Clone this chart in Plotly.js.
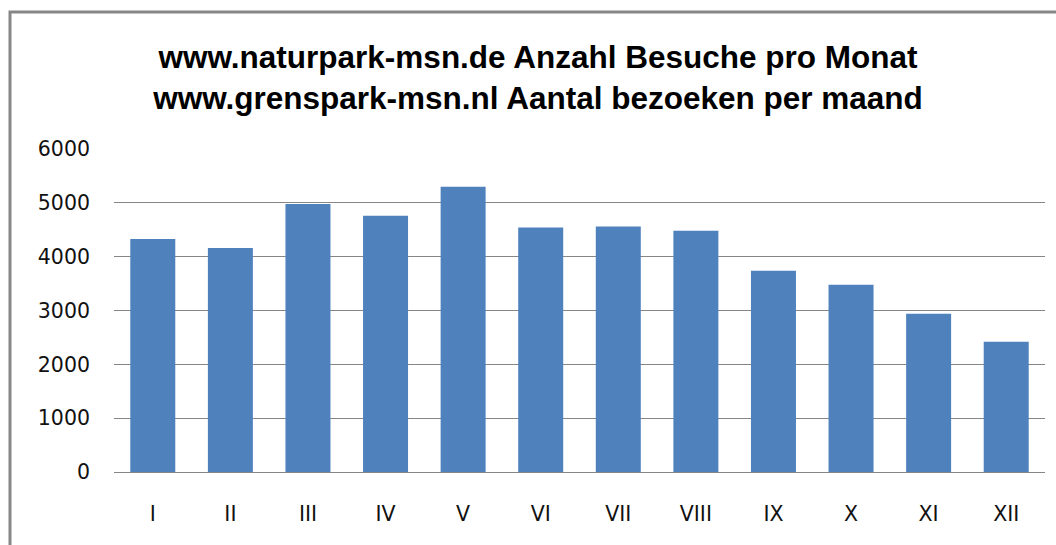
<!DOCTYPE html>
<html>
<head>
<meta charset="utf-8">
<script src="https://cdn.plot.ly/plotly-3.0.1.min.js"></script>
<style>html,body{margin:0;padding:0;background:#fff;}#chart{width:1056px;height:545px;}</style>
</head>
<body>
<div id="chart"></div>
<script>
const months = ["I","II","III","IV","V","VI","VII","VIII","IX","X","XI","XII"];
const visits = [4330, 4160, 4980, 4760, 5300, 4540, 4560, 4480, 3740, 3480, 2940, 2420];
const yTicks = [0, 1000, 2000, 3000, 4000, 5000, 6000];
const titleLines = ["www.naturpark-msn.de Anzahl Besuche pro Monat", "www.grenspark-msn.nl Aantal bezoeken per maand"];

const L = 114, R = 11, T = 149, B = 73, W = 1056, H = 545;
const pw = W - L - R, ph = H - T - B;

const trace = {
  type: 'bar',
  x: months,
  y: visits,
  marker: {color: '#4F81BD', line: {width: 0}},
  hoverinfo: 'x+y'
};

const tickFont = {family: "'DejaVu Sans', Verdana, sans-serif", size: 20.5, color: '#111111'};

const layout = {
  width: W, height: H,
  margin: {l: L, r: R, t: T, b: B, pad: 0},
  paper_bgcolor: '#ffffff',
  plot_bgcolor: '#ffffff',
  bargap: 0.42,
  showlegend: false,
  title: {
    text: '<b>' + titleLines.join('<br>') + '</b>',
    font: {family: "'Liberation Sans', Arial, sans-serif", size: 31.5, color: '#000000'},
    x: 538 / W, xanchor: 'center', xref: 'container',
    y: 1 - 68 / H, yanchor: 'middle', yref: 'container'
  },
  xaxis: {
    type: 'category',
    showgrid: false,
    showline: true, linecolor: '#868686', linewidth: 1,
    ticks: '', ticklabelstandoff: 23,
    tickfont: tickFont,
    zeroline: false, fixedrange: true
  },
  yaxis: {
    range: [0, 6000],
    tickvals: yTicks,
    ticktext: yTicks.map(String),
    showgrid: true, gridcolor: '#868686', gridwidth: 1,
    showline: false, zeroline: true, zerolinecolor: '#868686', zerolinewidth: 1,
    ticks: '', ticklabelstandoff: 23,
    tickfont: tickFont,
    fixedrange: true
  },
  shapes: [{
    type: 'rect', xref: 'paper', yref: 'paper',
    x0: (10 - L) / pw, x1: (W + 20 - L) / pw,
    y0: -(B + 20) / ph, y1: (H - B - 12) / ph,
    line: {color: '#878787', width: 3},
    fillcolor: 'rgba(0,0,0,0)', layer: 'below'
  }]
};

Plotly.newPlot('chart', [trace], layout, {displayModeBar: false, staticPlot: true});
</script>
</body>
</html>
